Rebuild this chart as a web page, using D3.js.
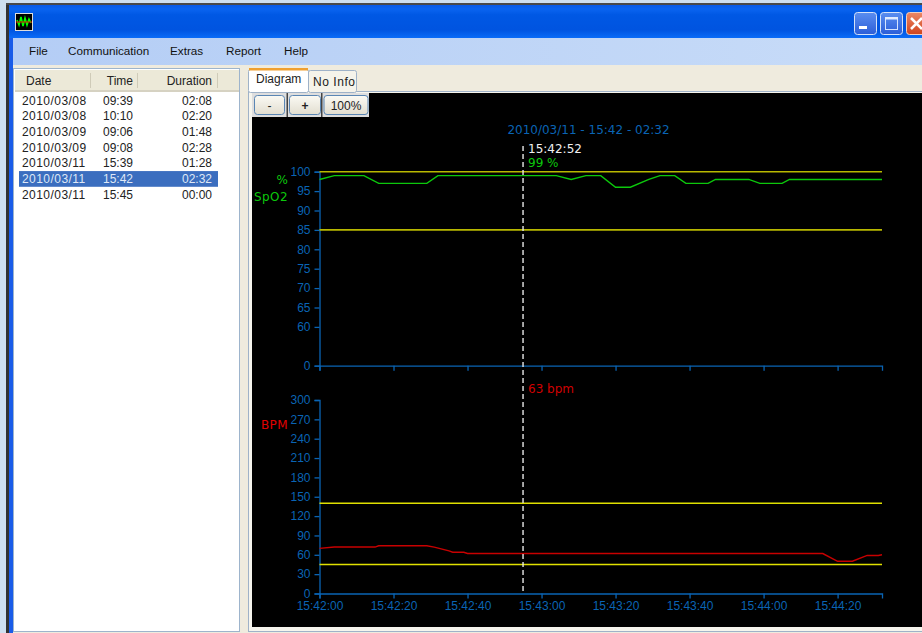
<!DOCTYPE html>
<html>
<head>
<meta charset="utf-8">
<script src="https://cdn.jsdelivr.net/npm/d3@7"></script>
<style>
html, body { margin: 0; padding: 0; background: #fff; overflow: hidden; }
svg { display: block; }
text { font-family: "Liberation Sans", sans-serif; }
text.plot { font-family: "DejaVu Sans", sans-serif; }
</style>
</head>
<body>
<svg id="chart" width="922" height="633"></svg>
<script>
// session list
const sessionDates = ['2010/03/08', '2010/03/08', '2010/03/09', '2010/03/09', '2010/03/11', '2010/03/11', '2010/03/11'];
const sessionTimes = ['09:39', '10:10', '09:06', '09:08', '15:39', '15:42', '15:45'];
const sessionDurations = ['02:08', '02:20', '01:48', '02:28', '01:28', '02:32', '00:00'];
const selectedSession = 5;

const menuItems = ['File', 'Communication', 'Extras', 'Report', 'Help'];

// seconds since 15:42:00
const spo2Seconds = [0, 4, 12, 16, 29, 32, 64, 68, 72, 76, 80, 84, 89, 92, 96, 99, 105, 107, 116, 119, 125, 127, 152];
const spo2Values = [98, 99, 99, 97, 97, 99, 99, 98, 99, 99, 96, 96, 98, 99, 99, 97, 97, 98, 98, 97, 97, 98, 98];
const spo2Limits = [100, 85];
const spo2Ticks = [60, 65, 70, 75, 80, 85, 90, 95, 100];

const bpmSeconds = [0, 4, 15, 16, 29, 31, 35, 36, 39, 40, 136, 140, 144, 148, 151, 152];
const bpmValues = [70, 72, 72, 74, 74, 72, 66, 64, 64, 62, 62, 50, 50, 59, 59, 60];
const bpmLimits = [140, 45];
const bpmTicks = [0, 30, 60, 90, 120, 150, 180, 210, 240, 270, 300];

const timeTicks = [0, 20, 40, 60, 80, 100, 120, 140];
const timeLabels = ['15:42:00', '15:42:20', '15:42:40', '15:43:00', '15:43:20', '15:43:40', '15:44:00', '15:44:20'];
const cursorSecond = 55; // where the dashed marker sits on the axis

const svg = d3.select('#chart');
const axisBlue = '#0a64b4';
const labelBlue = '#0a64b4';

function rect(x, y, w, h, fill, stroke) {
    return svg.append('rect').attr('x', x).attr('y', y).attr('width', w).attr('height', h)
        .attr('fill', fill).attr('stroke', stroke || 'none');
}
function label(x, y, str, fill, size, anchor) {
    return svg.append('text').attr('x', x).attr('y', y).text(str)
        .attr('fill', fill).attr('font-size', size || 12).attr('text-anchor', anchor || 'start');
}
function plotLabel(x, y, str, fill, anchor) {
    return label(x, y, str, fill, 12, anchor).attr('class', 'plot');
}
function gradient(id, stops, horizontal) {
    const g = svg.select('defs').append('linearGradient').attr('id', id)
        .attr('x1', 0).attr('y1', 0).attr('x2', horizontal ? 1 : 0).attr('y2', horizontal ? 0 : 1);
    stops.forEach(([o, c]) => g.append('stop').attr('offset', o).attr('stop-color', c));
}

//window frame
svg.append('defs');
gradient('title', [['0%', '#0a5ae6'], ['12%', '#0a64f0'], ['30%', '#0058e4'], ['75%', '#0054e0'], ['100%', '#0a6cf8']]);
gradient('menu', [['0%', '#b4cdf5'], ['100%', '#c8dcf8']], true);
gradient('btn', [['0%', '#fbfaf4'], ['100%', '#e2ded0']]);
gradient('capBlue', [['0%', '#5a8ef0'], ['100%', '#2c5ed8']]);
gradient('capRed', [['0%', '#ec8866'], ['100%', '#d0451e']]);

rect(0, 0, 922, 633, '#cfe0f0');
rect(6, 3, 916, 2, '#4a4a4a');
rect(6, 5, 3, 628, '#333');
rect(9, 5, 913, 33, 'url(#title)');
rect(9, 38, 4, 595, '#1a5ce8');
rect(13, 38, 909, 27, 'url(#menu)');
rect(13, 65, 909, 568, '#efebde');

//app icon
rect(15.5, 13.5, 17, 17, '#000', '#ddd');
svg.append('path').attr('d', 'M17 20 L19 25 L21 17 L23 26 L25 18 L27 25 L29 19 L31 23').attr('fill', 'none').attr('stroke', '#0f0').attr('stroke-width', 1.6);
svg.append('line').attr('x1', 16).attr('x2', 32).attr('y1', 22).attr('y2', 22).attr('stroke', '#e00');

//caption buttons
rect(854.5, 12.5, 22, 22, 'url(#capBlue)', '#d5e2f8').attr('rx', 3);
rect(859, 26, 8, 3, '#fff');
rect(880.5, 12.5, 22, 22, 'url(#capBlue)', '#d5e2f8').attr('rx', 3);
rect(885.5, 17.5, 12, 12, 'none', '#d5e4ff');
rect(885, 17, 13, 2.5, '#e0ebff');
rect(906.5, 12.5, 22, 22, 'url(#capRed)', '#f0d0c0').attr('rx', 3);
svg.append('path').attr('d', 'M911 18 L922 29 M922 18 L911 29').attr('stroke', '#fff').attr('stroke-width', 2.5);

//menu
const menuX = [29, 68, 170, 226, 284];
menuItems.forEach((m, i) => label(menuX[i], 55, m, '#111', 11.7));

//session list panel
rect(13.5, 68.5, 226, 563, '#fff', '#9db4cc');
rect(15, 70, 224, 21, '#ece9d8');
rect(15, 90, 224, 2, '#d6d2c2');
[90, 137, 217].forEach(x => rect(x, 73, 1, 15, '#cfcbb8'));
label(26, 85, 'Date', '#222');
label(133, 85, 'Time', '#222', 12, 'end');
label(212, 85, 'Duration', '#222', 12, 'end');

const rowY = d3.scaleBand().domain(d3.range(sessionDates.length)).range([92, 202]);
rect(19, rowY(selectedSession) + 0.5, 199, rowY.bandwidth(), '#3b6ebf');
sessionDates.forEach((d, i) => {
    const color = i === selectedSession ? '#dfe8f6' : '#222';
    const y = rowY(i) + 12.5;
    label(22, y, d, color).attr('letter-spacing', 0.45);
    label(103, y, sessionTimes[i], color);
    label(212, y, sessionDurations[i], color, 12, 'end');
});

//tabs
rect(248.5, 91.5, 680, 540, '#f6f5ee', '#9fb2c8');
rect(308.5, 70.5, 48, 22, '#f5f3ea', '#9fb2c8').attr('rx', 2);
rect(248.5, 69.5, 60, 23, '#fff', '#9fb2c8').attr('rx', 2);
rect(249, 68, 59, 2.5, '#f0a030');
label(256, 83, 'Diagram', '#222');
label(313, 86, 'No Info', '#222').attr('letter-spacing', 0.55);

//plot background
rect(252, 93, 670, 534, '#000');

//toolbar buttons
rect(252, 93, 117, 24, '#dedede');
[286.5, 321].forEach(x => rect(x, 93, 1.5, 24, '#444'));
[[254, 30, '-'], [289, 31, '+'], [323.5, 44, '100%']].forEach(([x, w, s]) => {
    rect(x + 0.5, 95.5, w, 19, 'url(#btn)', '#5a86b4').attr('rx', 3);
    label(x + w / 2 + 0.5, 110, s, '#222', 12, 'middle').attr('font-weight', s === '+' ? 'bold' : 'normal');
});

//scales
const x = d3.scaleLinear().domain([0, 152]).range([319.5, 882]);
const ySpo2 = d3.scaleLinear().domain([50, 100]).range([365.7, 171.7]);
const yBpm = d3.scaleLinear().domain([0, 300]).range([593.5, 400]);

//SpO2 panel: axis bottom value is labelled 0 on the device plot
const spo2Axis = d3.axisLeft(ySpo2).tickValues(spo2Ticks.concat([50])).tickSize(5).tickPadding(4)
    .tickFormat(d => d === 50 ? '0' : d);
const bpmAxis = d3.axisLeft(yBpm).tickValues(bpmTicks).tickSize(5).tickPadding(4);

function styleAxis(g) {
    g.selectAll('path,line').attr('stroke', axisBlue).attr('stroke-width', 1.3);
    g.selectAll('text').attr('fill', labelBlue).attr('font-size', 12)
        .style('font-family', '"Liberation Sans", sans-serif');
}

svg.append('g').attr('transform', 'translate(319.5,0)').call(spo2Axis).call(styleAxis);
svg.append('g').attr('transform', 'translate(319.5,0)').call(bpmAxis).call(styleAxis);

const timeAxisTop = d3.axisBottom(x).tickValues(timeTicks).tickSize(5).tickFormat('');
svg.append('g').attr('transform', `translate(0,${ySpo2(50)})`).call(timeAxisTop).call(styleAxis);
const timeAxis = d3.axisBottom(x).tickValues(timeTicks).tickSize(5).tickPadding(3)
    .tickFormat((d, i) => timeLabels[i]);
svg.append('g').attr('transform', `translate(0,${yBpm(0)})`).call(timeAxis).call(styleAxis);

//limit lines
spo2Limits.forEach(v => {
    svg.append('line').attr('x1', x(0)).attr('x2', x(152)).attr('y1', ySpo2(v)).attr('y2', ySpo2(v))
        .attr('stroke', '#b8b800').attr('stroke-width', 1.6);
});
bpmLimits.forEach(v => {
    svg.append('line').attr('x1', x(0)).attr('x2', x(152)).attr('y1', yBpm(v)).attr('y2', yBpm(v))
        .attr('stroke', '#e0e000').attr('stroke-width', 1.4);
});

//series
svg.append('path')
    .attr('d', d3.line().x((d, i) => x(spo2Seconds[i])).y(d => ySpo2(d))(spo2Values))
    .attr('fill', 'none').attr('stroke', '#0cc80c').attr('stroke-width', 1.4);
svg.append('path')
    .attr('d', d3.line().x((d, i) => x(bpmSeconds[i])).y(d => yBpm(d))(bpmValues))
    .attr('fill', 'none').attr('stroke', '#c80000').attr('stroke-width', 1.4);

//cursor
svg.append('line').attr('x1', x(cursorSecond)).attr('x2', x(cursorSecond)).attr('y1', 146).attr('y2', yBpm(0))
    .attr('stroke', '#e8e8e8').attr('stroke-width', 1.4).attr('stroke-dasharray', '5 3');

//plot titles
plotLabel(588.5, 134, '2010/03/11 - 15:42 - 02:32', labelBlue, 'middle');
plotLabel(528, 153, '15:42:52', '#f0f0f0');
plotLabel(528, 167, '99 %', '#0cc80c');
plotLabel(528, 393, '63 bpm', '#d00000');
plotLabel(288, 184, '%', '#0cc80c', 'end');
plotLabel(288, 201, 'SpO2', '#0cc80c', 'end').attr('letter-spacing', 0.4);
plotLabel(288, 429, 'BPM', '#e00000', 'end').attr('letter-spacing', 0.4);
</script>
</body>
</html>
